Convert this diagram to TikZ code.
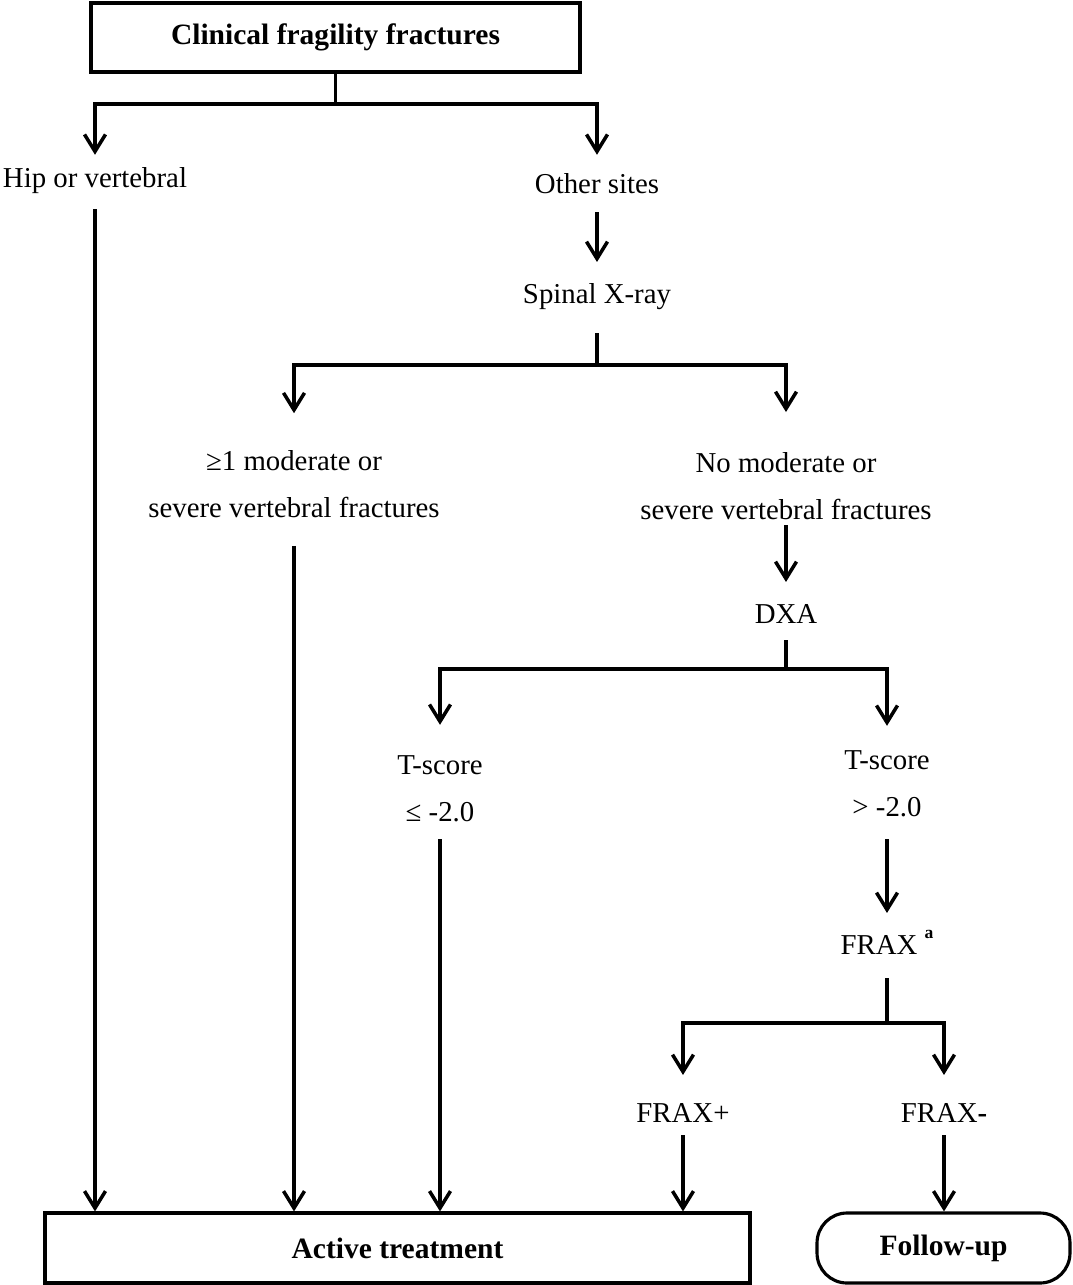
\documentclass[tikz,border=0pt]{standalone}
\usepackage{fontspec}
\setmainfont{Liberation Serif}
\usetikzlibrary{arrows.meta}

\begin{document}
\begin{tikzpicture}[x=0.02cm,y=-0.02cm,
    every node/.style={font=\fontsize{16.4}{26.9}\selectfont},
    lbl/.style={inner sep=0pt,anchor=base,text height=11.2pt,text depth=4pt},
    lbltwo/.style={inner sep=0pt,anchor=north,align=center},
    ln/.style={draw=black,line width=2pt},
    arr/.style={ln,-{Straight Barb[length=0.34cm,width=0.42cm]}},
    sqbox/.style={draw,line width=1.8pt,minimum height=1.38cm,inner sep=0pt,font=\fontsize{16.8}{20}\selectfont\bfseries},
    endbox/.style={sqbox,minimum height=1.4cm,rounded corners=0.6cm}]
  \useasboundingbox (0,0) rectangle (1072,1285);

  % boxes
  \node[sqbox,minimum width=9.78cm] (cff) at (335.5,37.5) {Clinical fragility fractures};
  \node[sqbox,minimum width=14.1cm,minimum height=1.4cm] (act) at (397.5,1248) {Active treatment};
  \node[endbox,minimum width=5.06cm] (fol) at (943.5,1248) {Follow-up};

  % labels
  \node[lbl] (hip) at (95,187) {Hip or vertebral};
  \node[lbl] (other) at (597,193) {Other sites};
  \node[lbl] (spinal) at (597,303) {Spinal X-ray};
  \node[lbltwo] (sevyes) at (294,450.2) {≥1 moderate or\\severe vertebral fractures};
  \node[lbltwo] (nosev) at (786,452) {No moderate or\\severe vertebral fractures};
  \node[lbl] (dxa) at (786,623) {DXA};
  \node[lbltwo] (tlo) at (440,754.8) {T-score\\≤ -2.0};
  \node[lbltwo] (thi) at (887,749.8) {T-score\\> -2.0};
  \node[lbl] (frax) at (887,954) {FRAX\hspace{4pt}\raisebox{9pt}{\fontsize{10}{10}\selectfont\bfseries a}};
  \node[lbl] (fplus) at (683,1122) {FRAX+};
  \node[lbl] (fminus) at (944,1122) {FRAX\textbf{-}};

  % junctions
  \coordinate (j1) at (335.5,104);
  \coordinate (j2) at (597,365);
  \coordinate (j3) at (786,669);
  \coordinate (j4) at (887,1023);

  % connectors
  \draw[ln] (cff) -- (j1);
  \draw[arr,shorten >=0.244cm] (j1) -| (hip);
  \draw[arr,shorten >=0.364cm] (j1) -| (other);
  \draw[arr,shorten <=0.3cm] (hip) -- (hip |- act.north);
  \draw[arr,shorten <=0.24cm,shorten >=0.42cm] (other) -- (spinal);

  \draw[ln,shorten <=0.46cm] (spinal) -- (j2);
  \draw[arr,shorten >=0.74cm] (j2) -| (sevyes);
  \draw[arr,shorten >=0.8cm] (j2) -| (nosev);
  \draw[arr,shorten <=0.55cm] (sevyes) -- (sevyes |- act.north);
  \draw[arr,shorten <=0.1cm,shorten >=0.42cm] (nosev) -- (dxa);

  \draw[ln,shorten <=0.2cm] (dxa) -- (j3);
  \draw[arr,shorten >=0.6cm] (j3) -| (tlo);
  \draw[arr,shorten >=0.48cm] (j3) -| (thi);
  \draw[arr,shorten <=0.34cm] (tlo) -- (tlo |- act.north);
  \draw[arr,shorten <=0.44cm,shorten >=0.42cm] (thi) -- (frax);

  \draw[ln,shorten <=0.34cm] (frax) -- (j4);
  \draw[arr,shorten >=0.54cm] (j4) -| (fplus);
  \draw[arr,shorten >=0.54cm] (j4) -| (fminus);
  \draw[arr,shorten <=0.12cm] (fplus) -- (fplus |- act.north);
  \draw[arr,shorten <=0.12cm] (fminus) -- (fminus |- fol.north);
\end{tikzpicture}
\end{document}
